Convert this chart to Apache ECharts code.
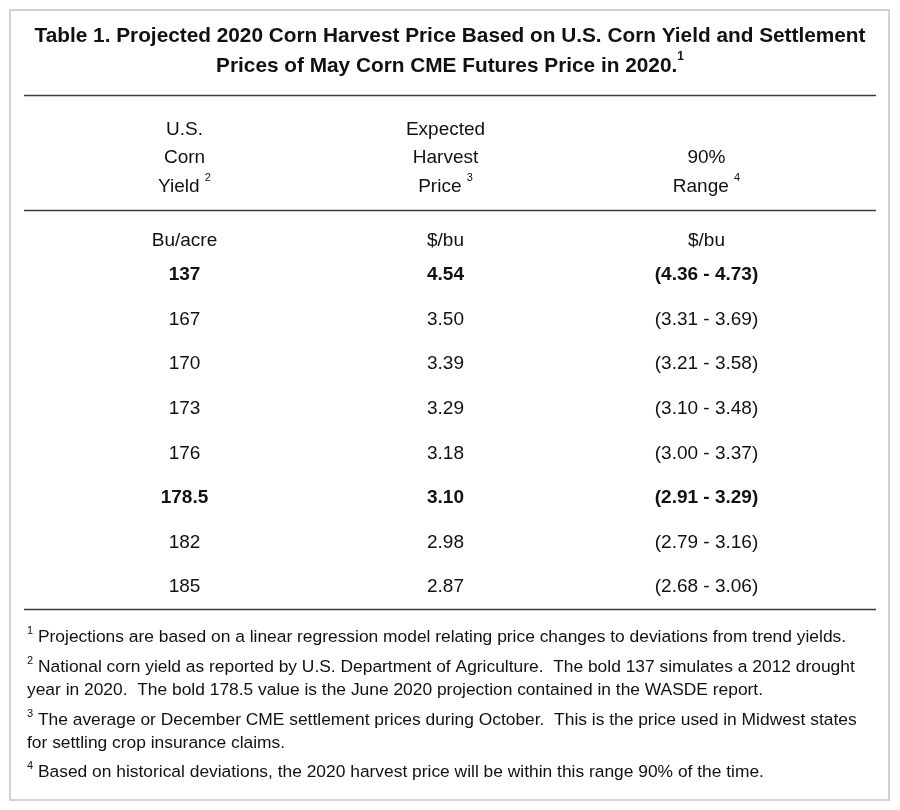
<!DOCTYPE html>
<html>
<head>
<meta charset="utf-8">
<script src="https://cdn.jsdelivr.net/npm/echarts@6/dist/echarts.min.js"></script>
<style>
html,body{margin:0;padding:0;background:#fff;}
#chart{width:900px;height:810px;}
</style>
</head>
<body>
<div id="chart"></div>
<script>
// ---- data ----
const titleLine1 = 'Table 1. Projected 2020 Corn Harvest Price Based on U.S. Corn Yield and Settlement';
const titleLine2 = 'Prices of May Corn CME Futures Price in 2020.';
const titleNote = '1';
const columnKeys = ['yield', 'price', 'range'];
const headerLines = [['U.S.', 'Corn', 'Yield'], ['Expected', 'Harvest', 'Price'], ['90%', 'Range']];
const headerNotes = ['2', '3', '4'];
const unitLabels = ['Bu/acre', '$/bu', '$/bu'];
const yields = ['137', '167', '170', '173', '176', '178.5', '182', '185'];
const prices = ['4.54', '3.50', '3.39', '3.29', '3.18', '3.10', '2.98', '2.87'];
const rangeLow = ['4.36', '3.31', '3.21', '3.10', '3.00', '2.91', '2.79', '2.68'];
const rangeHigh = ['4.73', '3.69', '3.58', '3.48', '3.37', '3.29', '3.16', '3.06'];
const boldYields = ['137', '178.5'];
const footnoteMarks = ['1', '2', '3', '4'];
const footnoteTexts = [
  ['Projections are based on a linear regression model relating price changes to deviations from trend yields.'],
  ['National corn yield as reported by U.S. Department of Agriculture.  The bold 137 simulates a 2012 drought',
   'year in 2020.  The bold 178.5 value is the June 2020 projection contained in the WASDE report.'],
  ['The average or December CME settlement prices during October.  This is the price used in Midwest states',
   'for settling crop insurance claims.'],
  ['Based on historical deviations, the 2020 harvest price will be within this range 90% of the time.']
];

// ---- styling ----
const FONT = '"Liberation Sans", Arial, sans-serif';
const TXT = '#111';
const RULE = '#3c3c3c';
const BODY_SIZE = 19;

const chart = echarts.init(document.getElementById('chart'), null, {renderer: 'canvas'});

function cellSeries(colIdx, texts) {
  return {
    type: 'scatter',
    xAxisIndex: 0,
    yAxisIndex: 0,
    symbolSize: 0,
    itemStyle: {color: 'rgba(0,0,0,0)', opacity: 1},
    silent: true,
    data: texts.map((t, i) => ({
      value: [colIdx, i],
      text: t,
      label: {fontWeight: boldYields.indexOf(yields[i]) >= 0 ? 'bold' : 'normal'}
    })),
    label: {
      show: true,
      position: 'inside',
      color: TXT,
      opacity: 1,
      fontFamily: FONT,
      fontSize: BODY_SIZE,
      formatter: p => p.data.text
    }
  };
}

const footTops = [625.5, 655.5, 708.5, 760.5];
const footTitles = footnoteTexts.map((lines, k) => ({
  text: '{sup|' + footnoteMarks[k] + '} ' + lines.join('\n'),
  left: 27,
  top: footTops[k],
  padding: 0,
  textStyle: {
    fontFamily: FONT,
    fontSize: 17.4,
    fontWeight: 'normal',
    color: TXT,
    lineHeight: 23,
    rich: {sup: {fontSize: 11, fontFamily: FONT, color: TXT, verticalAlign: 'top', lineHeight: 13}}
  }
}));

const titleStyle = {
  fontFamily: FONT,
  fontSize: 20.8,
  fontWeight: 'bold',
  color: TXT,
  lineHeight: 30,
  rich: {sup: {fontSize: 12, fontWeight: 'bold', fontFamily: FONT, color: TXT, verticalAlign: 'top', lineHeight: 14}}
};

const option = {
  backgroundColor: '#fff',
  animation: false,
  title: [{
    text: titleLine1,
    left: 'center',
    top: 21,
    padding: 0,
    textStyle: titleStyle
  }, {
    text: titleLine2 + '{sup|' + titleNote + '}',
    left: 'center',
    top: 51,
    padding: 0,
    textStyle: titleStyle
  }].concat(footTitles),
  grid: {left: 54, width: 783, top: 252.7, height: 356.6, containLabel: false},
  xAxis: [{
    type: 'category',
    data: columnKeys,
    position: 'top',
    axisLine: {show: false},
    axisTick: {show: false},
    splitLine: {show: false},
    axisLabel: {
      interval: 0,
      margin: 52,
      color: TXT,
      fontFamily: FONT,
      fontSize: BODY_SIZE,
      lineHeight: 28.5,
      align: 'center',
      formatter: (v, idx) => {
        const lines = headerLines[idx].slice();
        lines[lines.length - 1] = lines[lines.length - 1] + ' {sup|' + headerNotes[idx] + '}';
        return lines.join('\n');
      },
      rich: {sup: {fontSize: 11, fontFamily: FONT, color: TXT, verticalAlign: 'top', lineHeight: 16}}
    }
  }, {
    type: 'category',
    data: columnKeys,
    position: 'top',
    axisLine: {show: false},
    axisTick: {show: false},
    splitLine: {show: false},
    axisLabel: {
      interval: 0,
      margin: 1.5,
      color: TXT,
      fontFamily: FONT,
      fontSize: BODY_SIZE,
      lineHeight: 20,
      formatter: (v, idx) => unitLabels[idx]
    }
  }],
  yAxis: {
    type: 'category',
    data: yields,
    inverse: true,
    show: false
  },
  graphic: [
    {type: 'rect', shape: {x: 10, y: 10, width: 879, height: 790}, style: {fill: 'none', stroke: '#d2d2d2', lineWidth: 2}, silent: true},
    {type: 'line', shape: {x1: 24, y1: 95.5, x2: 876, y2: 95.5}, style: {stroke: RULE, lineWidth: 1.5}, silent: true},
    {type: 'line', shape: {x1: 24, y1: 210.5, x2: 876, y2: 210.5}, style: {stroke: RULE, lineWidth: 1.5}, silent: true},
    {type: 'line', shape: {x1: 24, y1: 609.5, x2: 876, y2: 609.5}, style: {stroke: RULE, lineWidth: 1.5}, silent: true}
  ],
  series: [
    cellSeries(0, yields),
    cellSeries(1, prices),
    cellSeries(2, rangeLow.map((lo, i) => '(' + lo + ' - ' + rangeHigh[i] + ')'))
  ]
};

chart.setOption(option);
</script>
</body>
</html>
